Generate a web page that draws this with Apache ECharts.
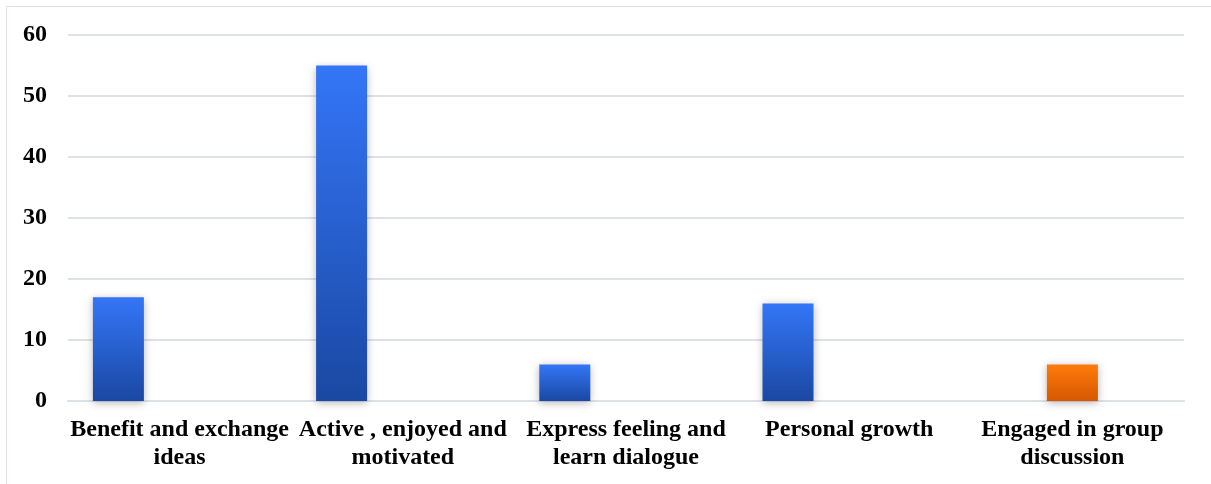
<!DOCTYPE html>
<html>
<head>
<meta charset="utf-8">
<script src="https://cdn.jsdelivr.net/npm/echarts@6/dist/echarts.min.js"></script>
<style>
html,body{margin:0;padding:0;background:#fff;}
#frame{position:absolute;left:6px;top:6px;width:1220px;height:490px;border:1px solid #dfe3ea;box-sizing:border-box;}
#chart{position:absolute;left:0;top:0;width:1211px;height:484px;}
</style>
</head>
<body>
<div id="frame"></div>
<div id="chart"></div>
<script>
const categories = ["Benefit and exchange\nideas", "Active , enjoyed and\nmotivated", "Express feeling and\nlearn dialogue", "Personal growth", "Engaged in group\ndiscussion"];
const blueValues = [17, 55, 6, 16, '-'];
const orangeValues = ['-', '-', '-', '-', 6];
const emptyValues = ['-', '-', '-', '-', '-'];
const yTicks = {min: 0, max: 60, interval: 10};

const font = '"Liberation Serif", "Times New Roman", serif';
const blueGrad = new echarts.graphic.LinearGradient(0, 0, 0, 1, [
  {offset: 0, color: '#3476f7'}, {offset: 1, color: '#1a48a3'}]);
const orangeGrad = new echarts.graphic.LinearGradient(0, 0, 0, 1, [
  {offset: 0, color: '#ff7b0b'}, {offset: 1, color: '#d45800'}]);
const shadow = {shadowColor: 'rgba(0,0,0,0.28)', shadowBlur: 8, shadowOffsetX: 0, shadowOffsetY: 2};

const chart = echarts.init(document.getElementById('chart'), null, {renderer: 'canvas'});
chart.setOption({
  animation: false,
  grid: {left: 68, right: 27, top: 35, bottom: 83, containLabel: false},
  xAxis: {
    type: 'category', data: categories,
    axisLine: {show: true, lineStyle: {color: '#dde1e8', width: 2}},
    axisTick: {show: false},
    axisLabel: {color: '#000', fontFamily: font, fontWeight: 'bold', fontSize: 24, lineHeight: 28, margin: 15, interval: 0}
  },
  yAxis: {
    type: 'value', min: yTicks.min, max: yTicks.max, interval: yTicks.interval,
    axisLine: {show: false}, axisTick: {show: false},
    splitLine: {lineStyle: {color: '#dde1e8', width: 2}},
    axisLabel: {color: '#000', fontFamily: font, fontWeight: 'bold', fontSize: 24, margin: 21}
  },
  series: [
    {type: 'bar', data: blueValues, barWidth: 51, barGap: '20%', itemStyle: Object.assign({color: blueGrad}, shadow)},
    {type: 'bar', data: orangeValues, barWidth: 51, barGap: '20%', itemStyle: Object.assign({color: orangeGrad}, shadow)},
    {type: 'bar', data: emptyValues, barWidth: 51, barGap: '20%'}
  ]
});
</script>
</body>
</html>
